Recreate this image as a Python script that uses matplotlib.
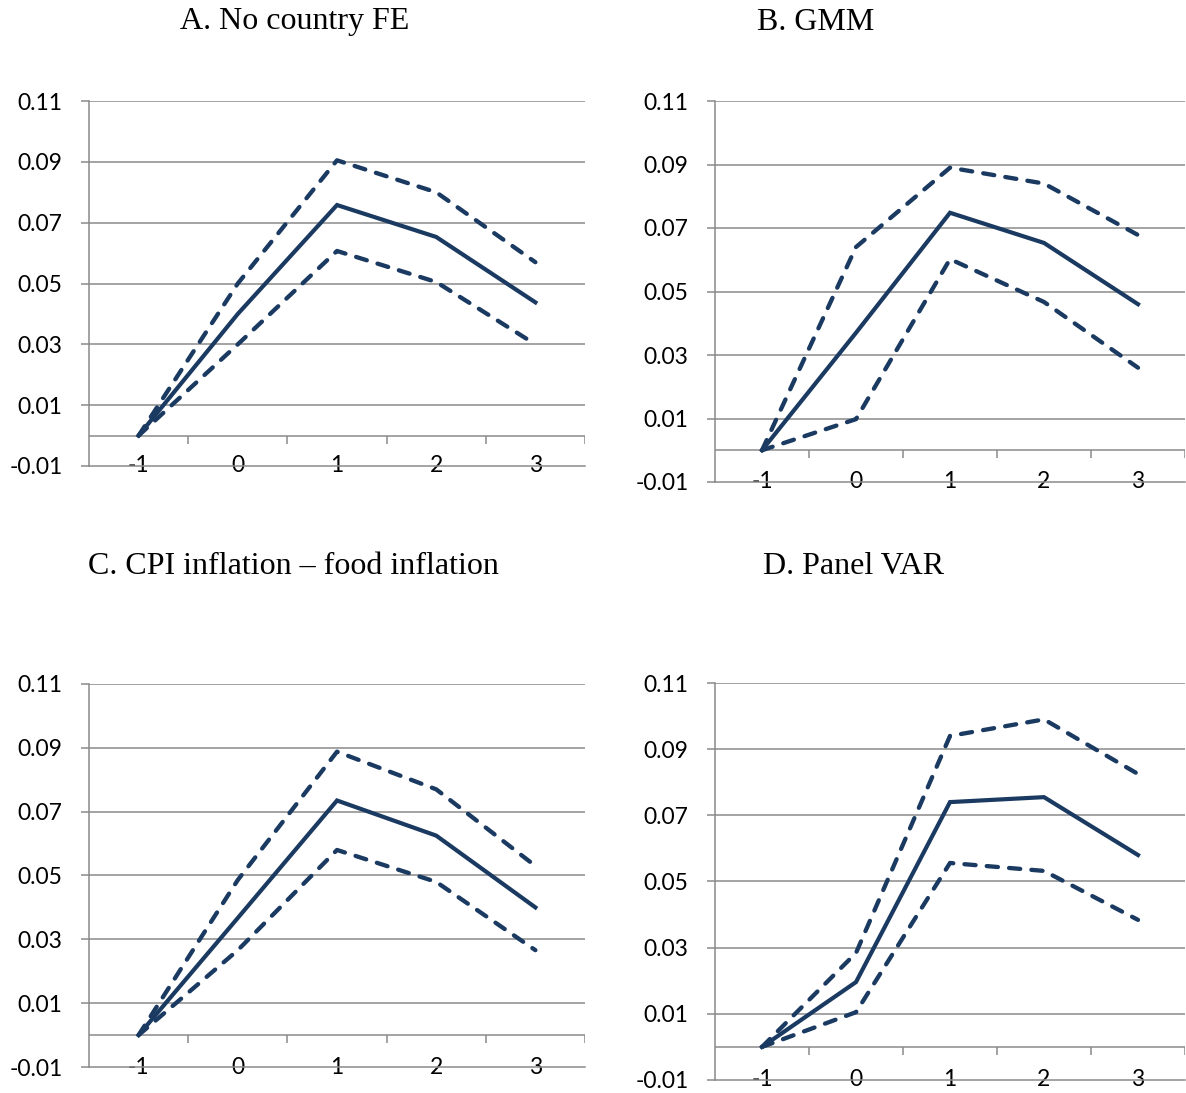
import matplotlib.pyplot as plt

# horizon (periods) shared by all panels
periods = [-1, 0, 1, 2, 3]

# A. No country FE
a_mid = [0.0, 0.040, 0.0758, 0.0653, 0.0438]
a_up = [0.0, 0.050, 0.0905, 0.0800, 0.0570]
a_lo = [0.0, 0.0300, 0.0607, 0.0505, 0.0300]

# B. GMM
b_mid = [0.0, 0.0370, 0.0748, 0.0653, 0.0460]
b_up = [0.0, 0.0640, 0.0890, 0.0840, 0.0678]
b_lo = [0.0, 0.0098, 0.0602, 0.0467, 0.0260]

# C. CPI inflation - food inflation
c_mid = [0.0, 0.0367, 0.0735, 0.0625, 0.0400]
c_up = [0.0, 0.0486, 0.0888, 0.0770, 0.0530]
c_lo = [0.0, 0.0266, 0.0580, 0.0480, 0.0266]

# D. Panel VAR
d_mid = [0.0, 0.0196, 0.0740, 0.0755, 0.0580]
d_up = [0.0, 0.0284, 0.0940, 0.0990, 0.0825]
d_lo = [0.0, 0.0105, 0.0556, 0.0532, 0.0384]

titles = ['A. No country FE', 'B. GMM',
          'C. CPI inflation \u2013 food inflation', 'D. Panel VAR']
yticks = [-0.01, 0.01, 0.03, 0.05, 0.07, 0.09, 0.11]

navy = '#1b3a61'
grid = '#8a8a8a'

W, H = 1186, 1093
fig = plt.figure(figsize=(W / 100, H / 100), dpi=100)


def px_axes(left, right, top, bottom):
    return fig.add_axes([left / W, 1 - bottom / H, (right - left) / W, (bottom - top) / H])


panels = [
    (px_axes(89, 585, 101, 466), a_mid, a_up, a_lo, (180, 22)),
    (px_axes(715, 1185, 101, 482), b_mid, b_up, b_lo, (757, 22)),
    (px_axes(89, 585, 684, 1067), c_mid, c_up, c_lo, (88, 566)),
    (px_axes(715, 1185, 683, 1080), d_mid, d_up, d_lo, (763, 566)),
]

for (ax, mid, up, lo, tpos), title in zip(panels, titles):
    ax.set_xlim(-1.5, 3.5)
    ax.set_ylim(-0.01, 0.11)
    for side in ['top', 'right']:
        ax.spines[side].set_visible(False)
    ax.spines['left'].set_color(grid)
    ax.spines['left'].set_linewidth(1.1)
    ax.spines['bottom'].set_color(grid)
    ax.spines['bottom'].set_linewidth(1.1)

    ax.set_yticks(yticks)
    ax.set_yticklabels([f'{v:.2f}' for v in yticks])
    ax.tick_params(axis='y', length=6, width=1.1, color=grid, pad=13,
                   labelsize=16.5, labelfontfamily='Lato')
    ax.set_xticks([])
    for v in yticks[1:]:
        ax.axhline(v, color=grid, lw=1.1, zorder=1)

    # category axis at zero with tick marks between categories
    ax.axhline(0, color=grid, lw=1.1, zorder=1)
    tick_len = 0.12 * 8 / (ax.bbox.height)
    ax.vlines([p + 0.5 for p in periods], -tick_len, 0, color=grid, lw=1.1, zorder=1)
    for p in periods:
        ax.text(p, -0.01, str(p), ha='center', va='center', fontsize=16.5,
                family='Lato', color='black', zorder=0)

    ax.plot(periods, mid, color=navy, lw=3.0, solid_joinstyle='miter', zorder=3)
    for band in (up, lo):
        ax.plot(periods, band, color=navy, lw=3.1, linestyle=(0, (2.6, 2.6)),
                dash_capstyle='round', zorder=3)

    fig.text(tpos[0] / W, 1 - tpos[1] / H, title, ha='left', va='center',
             fontsize=23, family='Liberation Serif')

fig.savefig('out.png', dpi=100)
